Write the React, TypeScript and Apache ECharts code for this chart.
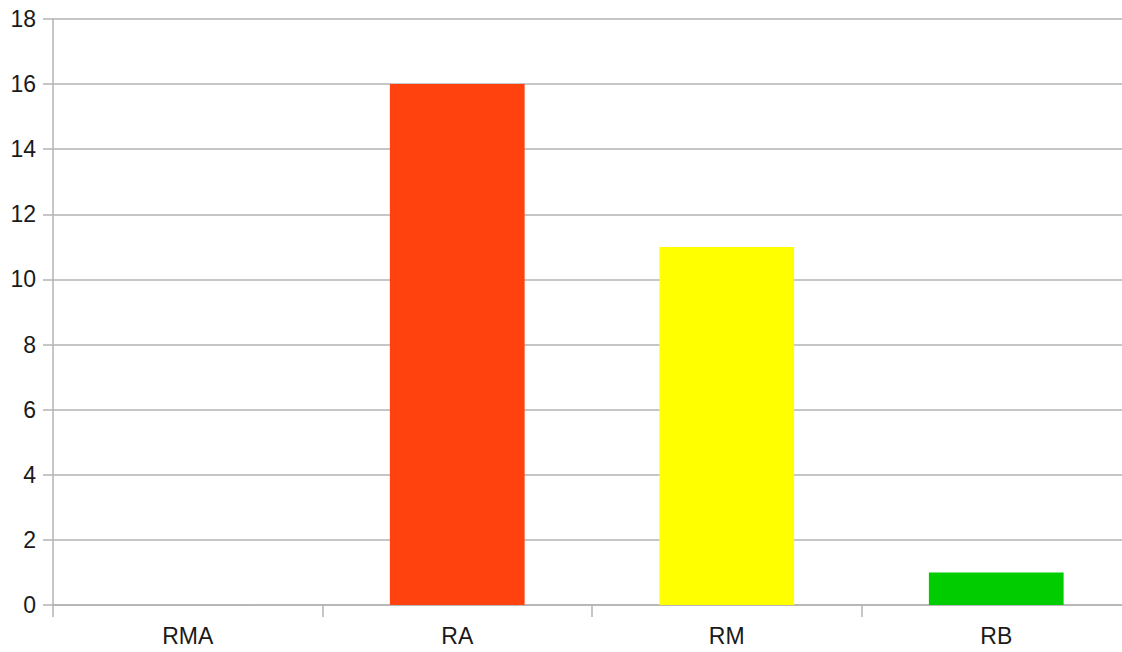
import React, { useEffect, useRef } from "react";
import * as echarts from "echarts";

const categories = ["RMA", "RA", "RM", "RB"];
const values = [0, 16, 11, 1];
const barColors = ["#004586", "#ff420e", "#ffff00", "#00cc00"];
const yTicks = { min: 0, max: 18, interval: 2 };

export default function App() {
  const ref = useRef<HTMLDivElement>(null);
  useEffect(() => {
    if (!ref.current) return;
    const chart = echarts.init(ref.current, undefined, { renderer: "svg" });
    chart.setOption({
      animation: false,
      backgroundColor: "#ffffff",
      grid: { left: 53, top: 19, height: 586, width: 1078, containLabel: false },
      xAxis: {
        type: "category",
        data: categories,
        axisLine: { show: true, lineStyle: { color: "#b3b3b3", width: 1.5 } },
        axisTick: { show: true, length: 12, lineStyle: { color: "#b3b3b3", width: 1.5 } },
        axisLabel: {
          margin: 19,
          color: "#1a1a1a",
          fontSize: 23,
          fontFamily: "Liberation Sans",
        },
      },
      yAxis: {
        type: "value",
        min: yTicks.min,
        max: yTicks.max,
        interval: yTicks.interval,
        axisLine: { show: true, lineStyle: { color: "#b3b3b3", width: 1.5 } },
        axisTick: { show: true, length: 10, lineStyle: { color: "#b3b3b3", width: 1.5 } },
        splitLine: { show: true, lineStyle: { color: "#b3b3b3", width: 1.5 } },
        axisLabel: {
          margin: 17,
          color: "#1a1a1a",
          fontSize: 23,
          fontFamily: "Liberation Sans",
        },
      },
      series: [
        {
          type: "bar",
          barWidth: "50%",
          data: values.map((v, i) => ({ value: v, itemStyle: { color: barColors[i] } })),
        },
      ],
    });
    return () => chart.dispose();
  }, []);
  return (
    <div
      style={{
        position: "absolute",
        left: 0,
        top: 0,
        width: 1122,
        height: 652,
        overflow: "hidden",
      }}
    >
      <div ref={ref} style={{ width: 1150, height: 652 }} />
    </div>
  );
}
